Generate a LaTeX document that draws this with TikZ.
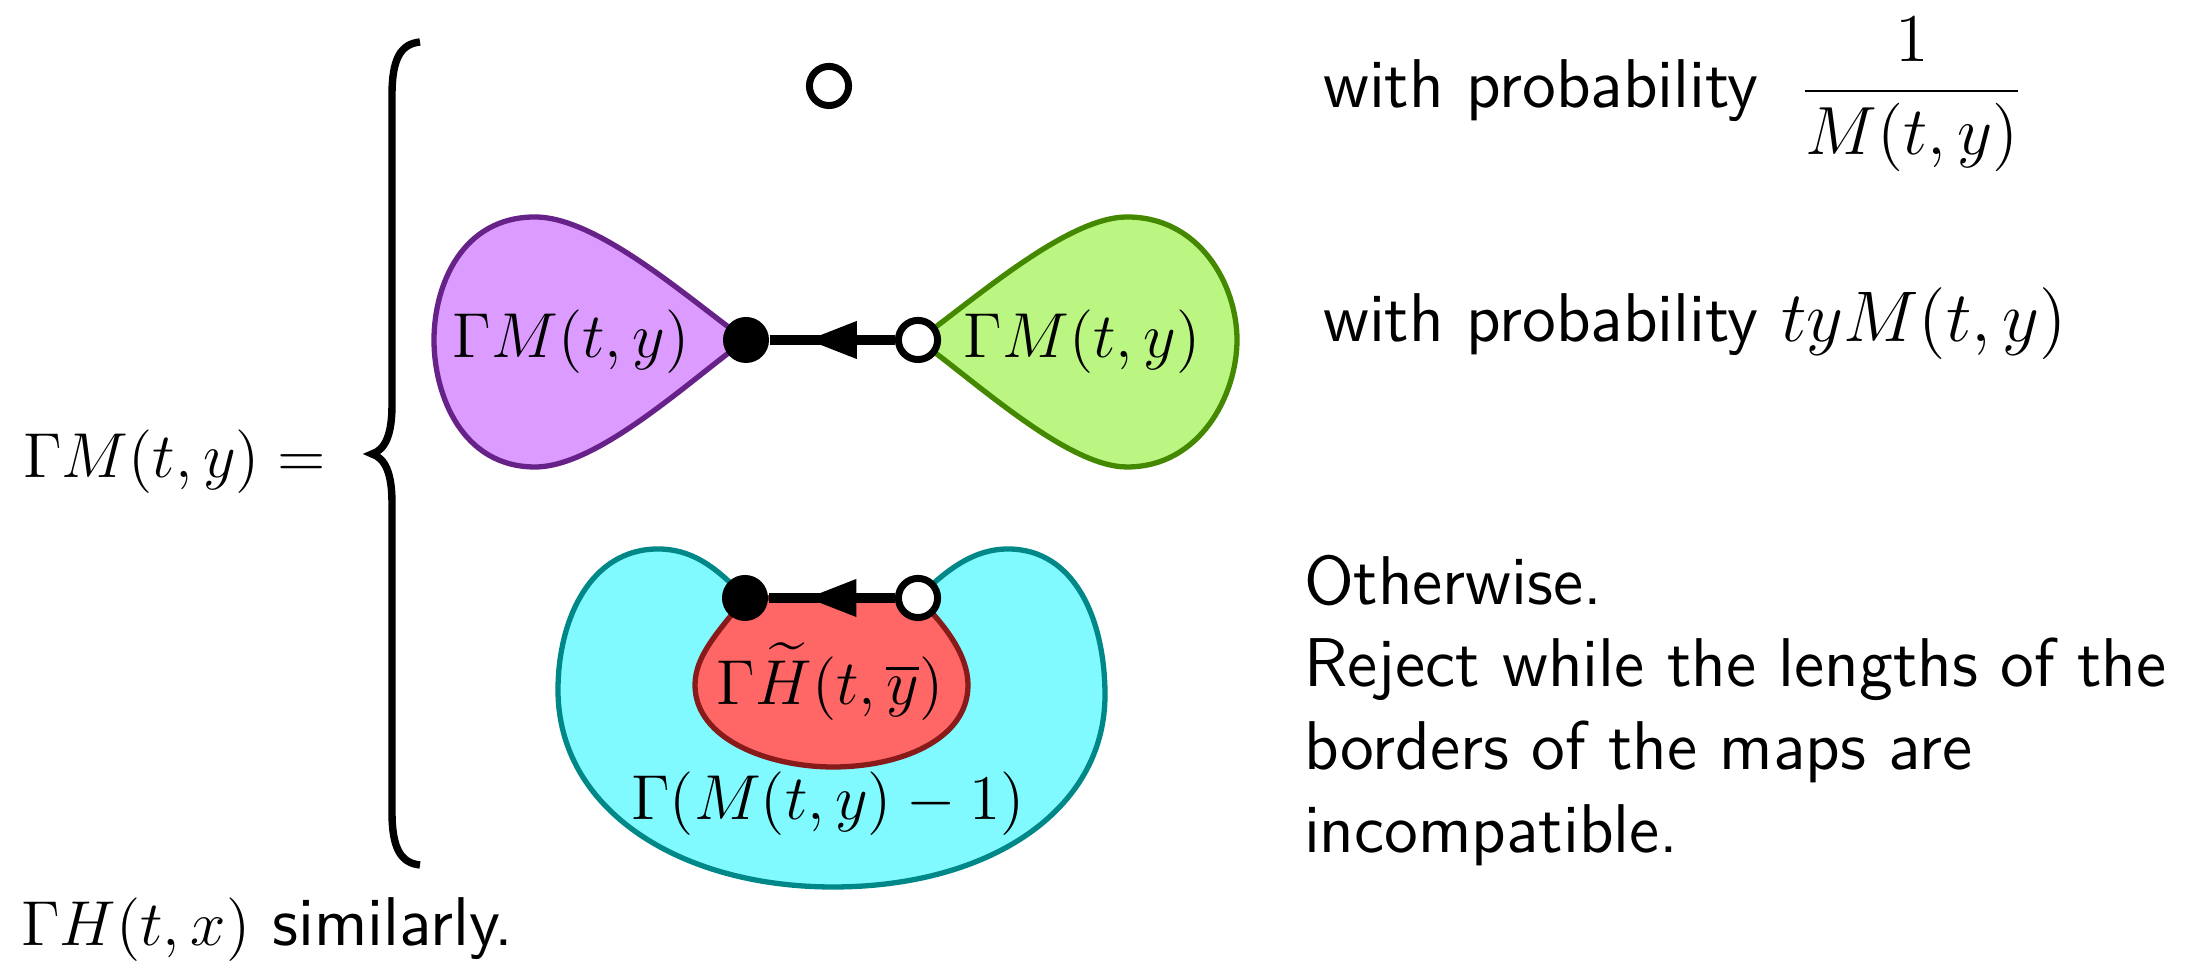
\documentclass[tikz,border=0pt]{standalone}
\usepackage{amsmath}
\usepackage{graphicx}
\usetikzlibrary{decorations.markings}
\definecolor{purpfill}{HTML}{DC9BFF}
\definecolor{purpline}{HTML}{662288}
\definecolor{greenfill}{HTML}{BBF582}
\definecolor{greenline}{HTML}{448800}
\definecolor{cyanfill}{HTML}{80FAFF}
\definecolor{cyanline}{HTML}{008888}
\definecolor{redfill}{HTML}{FF6666}
\definecolor{redline}{HTML}{881A1A}
\tikzset{
  region/.style={line width=1pt},
  bdot/.style={circle, fill=black, inner sep=0pt, minimum size=8.7pt},
  wdot/.style={circle, draw=black, fill=white, line width=1.32pt, inner sep=0pt, minimum size=7.4pt},
  halfedge/.style={line width=1.8pt, postaction={decorate},
    decoration={markings, mark=at position 0.5 with {\fill (4.6pt,0) -- (-4.6pt,3.6pt) -- (-4.6pt,-3.6pt) -- cycle;}}},
  txt/.style={inner sep=0pt, anchor=base west, font=\fontsize{13.04}{15.7}\selectfont\sffamily},
  lbl/.style={inner sep=0pt, anchor=base, font=\fontsize{12}{14}\selectfont},
  bracestyle/.style={line width=1.4pt},
}
\newcommand{\mth}[1]{{\fontsize{12}{14}\selectfont$#1$}}
\newcommand{\bigmth}[2][1.13]{{\fontsize{12}{14}\selectfont\scalebox{#1}{$#2$}}}
\begin{document}
\begin{tikzpicture}[x=0.189pt,y=-0.189pt]
\useasboundingbox (0,0) rectangle (2188,962);
% positions of the vertices
\coordinate (B1) at (746,340);
\coordinate (W1) at (918,340);
\coordinate (B2) at (745,598);
\coordinate (W2) at (918,598);
% brace
\draw[bracestyle] (420,42) .. controls (400,44) and (392,60) .. (392,95) -- (392,405)
  .. controls (392,435) and (385,450) .. (372,454) .. controls (385,458) and (392,473) .. (392,503)
  -- (392,812) .. controls (392,847) and (400,863) .. (420,865);
% left hand side
\node[lbl, anchor=base west] (lhs) at (22,478) {$\Gamma M(t,y) =$};
\node[txt] (sim) at (20,946) {\mth{\Gamma H(t,x)} similarly.};
% first case
\node[wdot] (w0) at (829,86) {};
\node[txt] (p1) at (1322,108) {with probability\hspace{3.3pt} \bigmth[1.075]{\dfrac{1}{M(t,y)}}};
% second case
\draw[region, draw=purpline, fill=purpfill] (B1) .. controls (690,300) and (598,217) .. (535,217)
  .. controls (462,217) and (434,285) .. (434,340) .. controls (434,395) and (462,467) .. (535,467)
  .. controls (598,467) and (690,380) .. (B1) -- cycle;
\draw[region, draw=greenline, fill=greenfill] (W1) .. controls (974,300) and (1067,217) .. (1127,217)
  .. controls (1200,217) and (1237,285) .. (1237,340) .. controls (1237,395) and (1200,467) .. (1127,467)
  .. controls (1067,467) and (974,380) .. (W1) -- cycle;
\node[lbl] (lp) at (571,358) {$\Gamma M(t,y)$};
\node[lbl] (lg) at (1082,358) {$\Gamma M(t,y)$};
\node[bdot] (b1) at (B1) {};
\node[wdot] (w1) at (W1) {};
\draw[halfedge] (w1) -- (b1);
\node[txt] (p2) at (1322,342) {with probability \bigmth{tyM(t,y)}};
% third case
\draw[region, draw=cyanline, fill=cyanfill] (B2) .. controls (715,565) and (690,549) .. (658,549)
  .. controls (590,549) and (558,620) .. (558,690) .. controls (558,810) and (680,887) .. (833,887)
  .. controls (990,887) and (1105,810) .. (1105,695) .. controls (1105,620) and (1075,549) .. (1008,549)
  .. controls (975,549) and (948,568) .. (W2) -- cycle;
\draw[region, draw=redline, fill=redfill] (B2) .. controls (720,630) and (695,655) .. (695,685)
  .. controls (695,740) and (770,767) .. (833,767) .. controls (900,767) and (968,740) .. (968,685)
  .. controls (968,655) and (945,625) .. (W2) -- cycle;
\node[lbl] (lr) at (830,705) {$\Gamma\widetilde{H}(t,\overline{y})$};
\node[lbl] (lc) at (828,820) {$\Gamma(M(t,y)-1)$};
\node[bdot] (b2) at (B2) {};
\node[wdot] (w2) at (W2) {};
\draw[halfedge] (w2) -- (b2);
\node[txt] (o1) at (1303,605) {Otherwise.};
\node[txt] (o2) at (1303,687) {Reject while the lengths of the};
\node[txt] (o3) at (1303,770) {borders of the maps are};
\node[txt] (o4) at (1303,853) {incompatible.};
\end{tikzpicture}
\end{document}
